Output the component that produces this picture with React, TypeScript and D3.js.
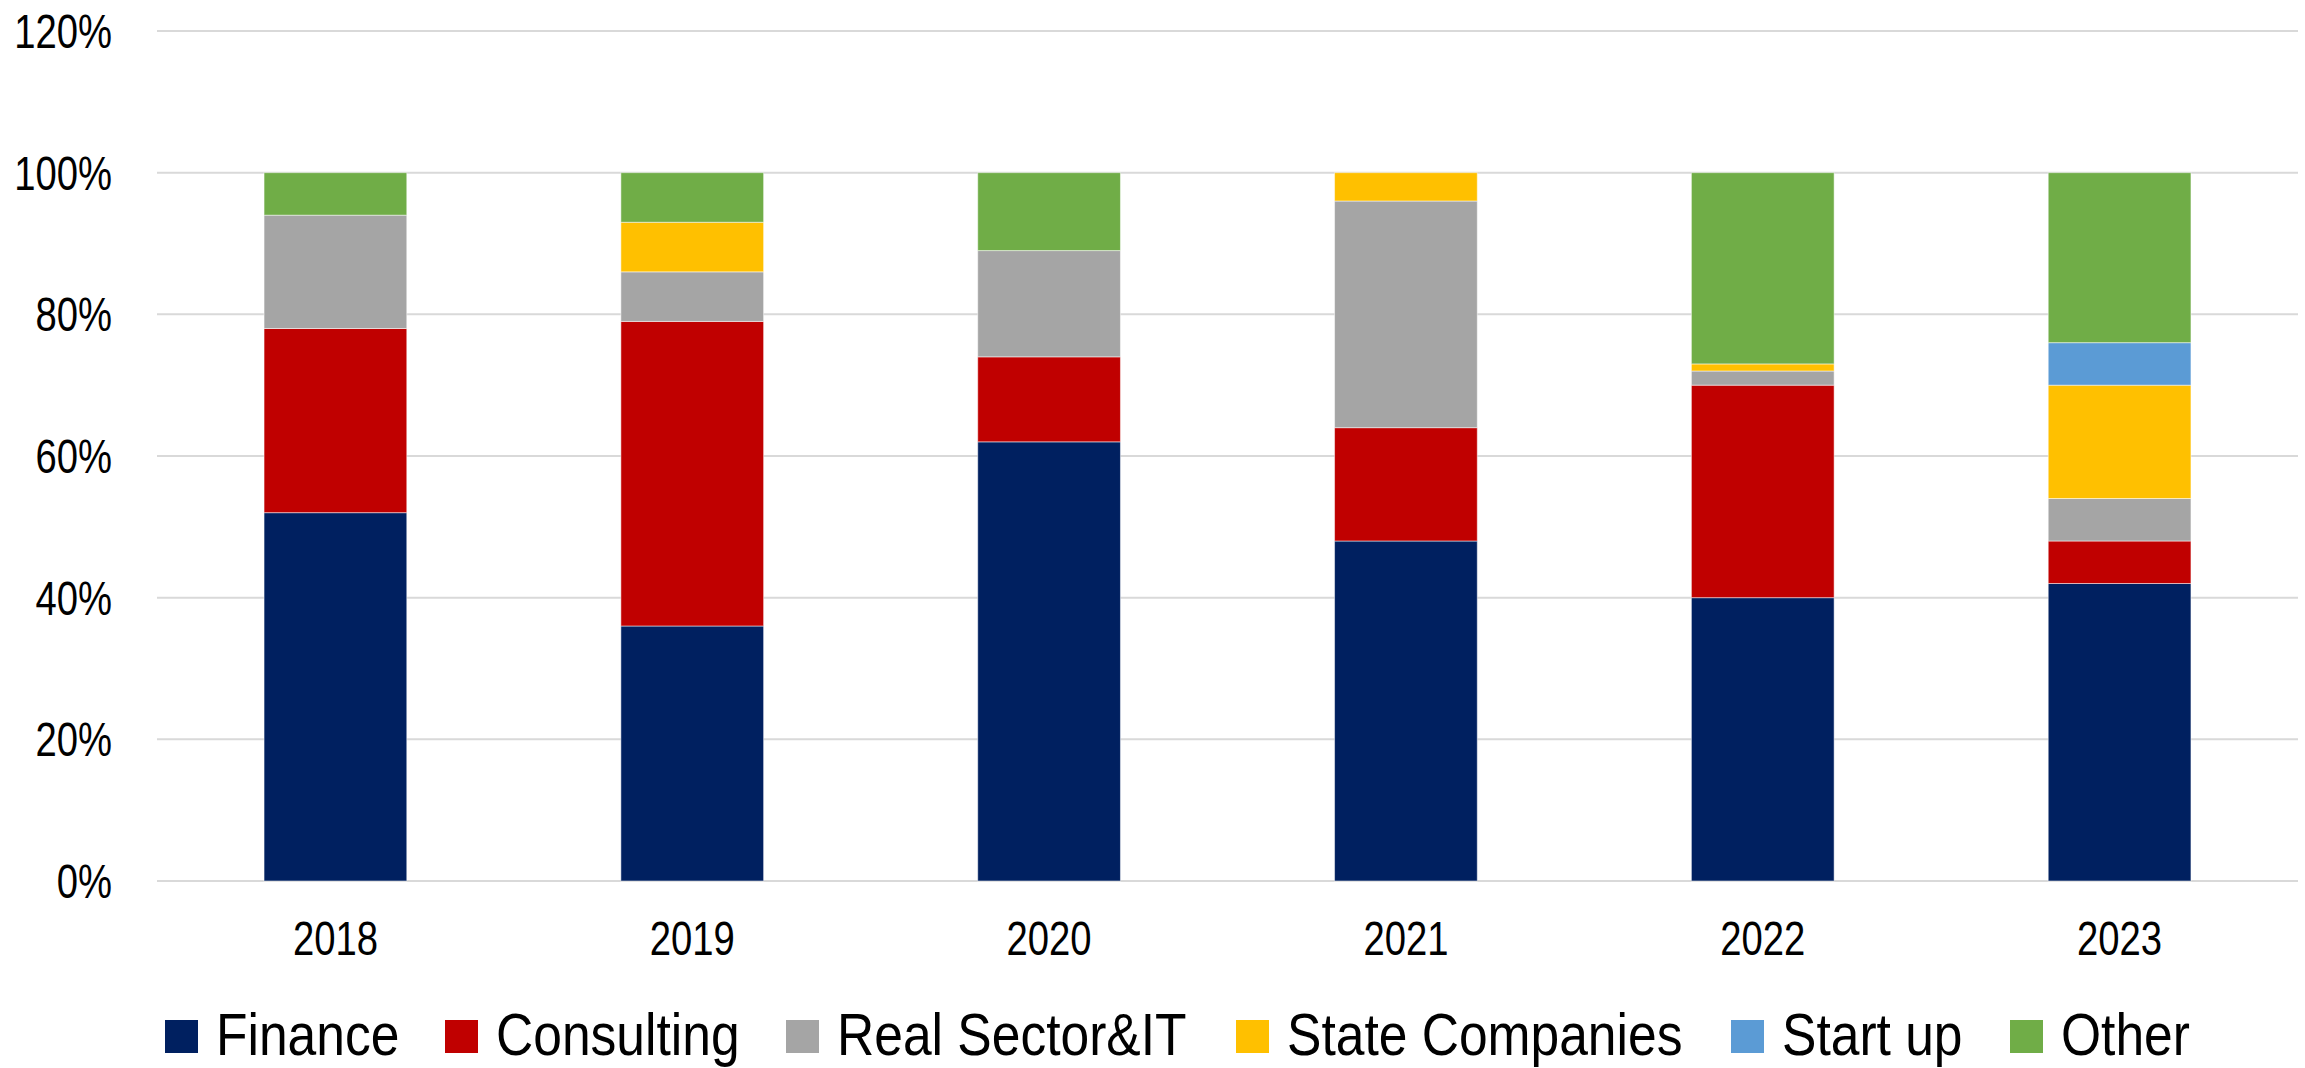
import React, { useEffect, useRef } from "react";
import * as d3 from "d3";

const years = ["2018", "2019", "2020", "2021", "2022", "2023"];
const seriesNames = ["Finance", "Consulting", "Real Sector&IT", "State Companies", "Start up", "Other"];
const seriesColors = ["#002060", "#C00000", "#A5A5A5", "#FFC000", "#5B9BD5", "#70AD47"];
const finance = [52, 36, 62, 48, 40, 42];
const consulting = [26, 43, 12, 16, 30, 6];
const realSector = [16, 7, 15, 32, 2, 6];
const stateCompanies = [0, 7, 0, 4, 1, 16];
const startUp = [0, 0, 0, 0, 0, 6];
const other = [6, 7, 11, 0, 27, 24];
const yTicks = [0, 20, 40, 60, 80, 100, 120];

const W = 2305;
const H = 1068;
const FONT = "'Liberation Sans', Arial, sans-serif";
const AXIS_SX = 0.78;
const LEG_SX = 0.874;
const LEGEND_X = [165, 445, 786, 1236, 1731, 2010];

export default function App() {
  const ref = useRef<SVGSVGElement | null>(null);

  useEffect(() => {
    const svg = d3.select(ref.current);
    svg.selectAll("*").remove();

    const left = 157, right = 2298, top = 31, bottom = 881;
    const x = d3.scaleBand<string>().domain(years).range([left, right]).paddingInner(0.6).paddingOuter(0.3);
    const y = d3.scaleLinear().domain([0, 120]).range([bottom, top]);

    const allSeries = [finance, consulting, realSector, stateCompanies, startUp, other];
    const rows = years.map((yr, i) => {
      const r: any = { year: yr };
      seriesNames.forEach((n, k) => (r[n] = allSeries[k][i]));
      return r;
    });
    const stack = d3.stack<any>().keys(seriesNames)(rows);

    // gridlines
    svg.append("g").selectAll("line").data(yTicks).join("line")
      .attr("x1", left).attr("x2", right)
      .attr("y1", (d) => y(d)).attr("y2", (d) => y(d))
      .attr("stroke", "#D9D9D9").attr("stroke-width", 2);

    // y labels
    svg.append("g").selectAll("text").data(yTicks).join("text")
      .attr("transform", (d) => `translate(112,${y(d) + 17}) scale(${AXIS_SX},1)`)
      .attr("text-anchor", "end")
      .attr("font-family", FONT).attr("font-size", 49).attr("fill", "#000")
      .text((d) => `${d}%`);

    // bars
    const g = svg.append("g");
    stack.forEach((layer, k) => {
      g.append("g").selectAll("rect").data(layer.filter((d) => d[1] - d[0] > 0)).join("rect")
        .attr("x", (d: any) => x(d.data.year)!)
        .attr("width", x.bandwidth())
        .attr("y", (d) => y(d[1]))
        .attr("height", (d) => y(d[0]) - y(d[1]))
        .attr("fill", seriesColors[k])
        .attr("stroke", "rgba(255,255,255,0.5)")
        .attr("stroke-width", 1);
    });

    // x labels
    svg.append("g").selectAll("text").data(years).join("text")
      .attr("transform", (d) => `translate(${x(d)! + x.bandwidth() / 2},955) scale(${AXIS_SX},1)`)
      .attr("text-anchor", "middle")
      .attr("font-family", FONT).attr("font-size", 49).attr("fill", "#000")
      .text((d) => d);

    // legend
    const leg = svg.append("g");
    seriesNames.forEach((n, k) => {
      const cx = LEGEND_X[k];
      leg.append("rect").attr("x", cx).attr("y", 1020).attr("width", 33).attr("height", 33).attr("fill", seriesColors[k]);
      leg.append("text")
        .attr("transform", `translate(${cx + 51},1055) scale(${LEG_SX},1)`)
        .attr("font-family", FONT).attr("font-size", 59).attr("fill", "#000")
        .text(n);
    });
  }, []);

  return (
    <svg
      ref={ref}
      width={W}
      height={H}
      style={{ position: "absolute", left: 0, top: 0, display: "block", background: "#fff" }}
    />
  );
}
